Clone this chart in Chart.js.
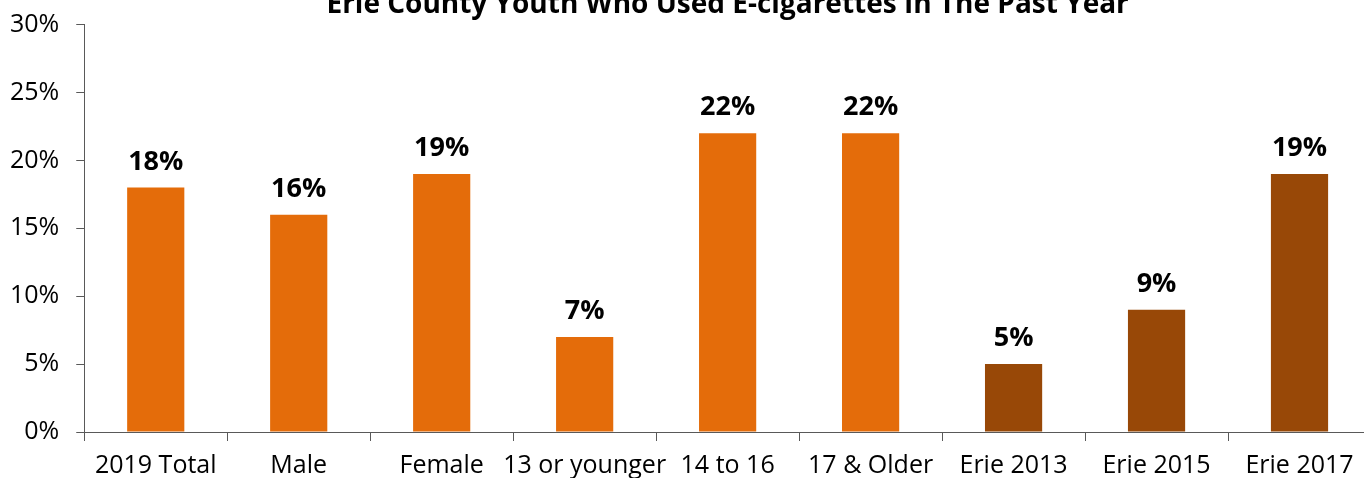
<!DOCTYPE html>
<html>
<head>
<meta charset="utf-8">
<script src="https://cdn.jsdelivr.net/npm/chart.js@4.4.0/dist/chart.umd.min.js"></script>
<style>
  html, body { margin: 0; padding: 0; overflow: hidden; background: #fff; }
  body { width: 1364px; height: 478px; position: relative; }
  #wrap { position: absolute; left: -7px; top: -30px; width: 1378px; height: 521px; }
</style>
</head>
<body>
<div id="wrap"><canvas id="chart"></canvas></div>
<script>
// categories and values
const categories = ['2019 Total', 'Male', 'Female', '13 or younger', '14 to 16', '17 & Older', 'Erie 2013', 'Erie 2015', 'Erie 2017'];
const percentUsed = [18, 16, 19, 7, 22, 22, 5, 9, 19];
const barColors = ['#E46C0A', '#E46C0A', '#E46C0A', '#E46C0A', '#E46C0A', '#E46C0A', '#984807', '#984807', '#984807'];
const yMax = 30;
const yStep = 5;

const FONT = "'Open Sans', 'Noto Sans', sans-serif";
const AXIS = '#595959';

// small plugin to write the value above each bar
const valueLabels = {
    id: 'valueLabels',
    afterDatasetsDraw(chart) {
        const ctx = chart.ctx;
        const meta = chart.getDatasetMeta(0);
        ctx.save();
        ctx.font = 'bold 27px ' + FONT;
        ctx.fillStyle = '#000';
        ctx.textAlign = 'center';
        ctx.textBaseline = 'alphabetic';
        meta.data.forEach((bar, i) => {
            ctx.fillText(percentUsed[i] + '%', bar.x, bar.y - 18);
        });
        ctx.restore();
    }
};

new Chart(document.getElementById('chart'), {
    type: 'bar',
    data: {
        labels: categories,
        datasets: [{
            data: percentUsed,
            backgroundColor: barColors,
            barPercentage: 0.8,
            categoryPercentage: 0.5
        }]
    },
    options: {
        responsive: true,
        maintainAspectRatio: false,
        animation: false,
        layout: { padding: 0 },
        plugins: {
            legend: { display: false },
            tooltip: { enabled: false },
            title: {
                display: true,
                fullSize: false,
                text: 'Erie County Youth Who Used E-cigarettes In The Past Year',
                color: '#000',
                font: { family: FONT, size: 28, weight: 'bold' },
                padding: { top: 18, bottom: 3 }
            }
        },
        scales: {
            x: {
                grid: { drawOnChartArea: false, drawTicks: true, tickLength: 9, color: AXIS },
                border: { color: AXIS },
                ticks: { color: '#000', font: { family: FONT, size: 25 }, padding: 10, maxRotation: 0, autoSkip: false }
            },
            y: {
                min: 0,
                max: yMax,
                grid: { drawOnChartArea: false, drawTicks: true, tickLength: 8, color: AXIS },
                border: { color: AXIS },
                ticks: { stepSize: yStep, color: '#000', font: { family: FONT, size: 25 }, padding: 17, callback: v => v + '%' }
            }
        }
    },
    plugins: [valueLabels]
});
</script>
</body>
</html>
